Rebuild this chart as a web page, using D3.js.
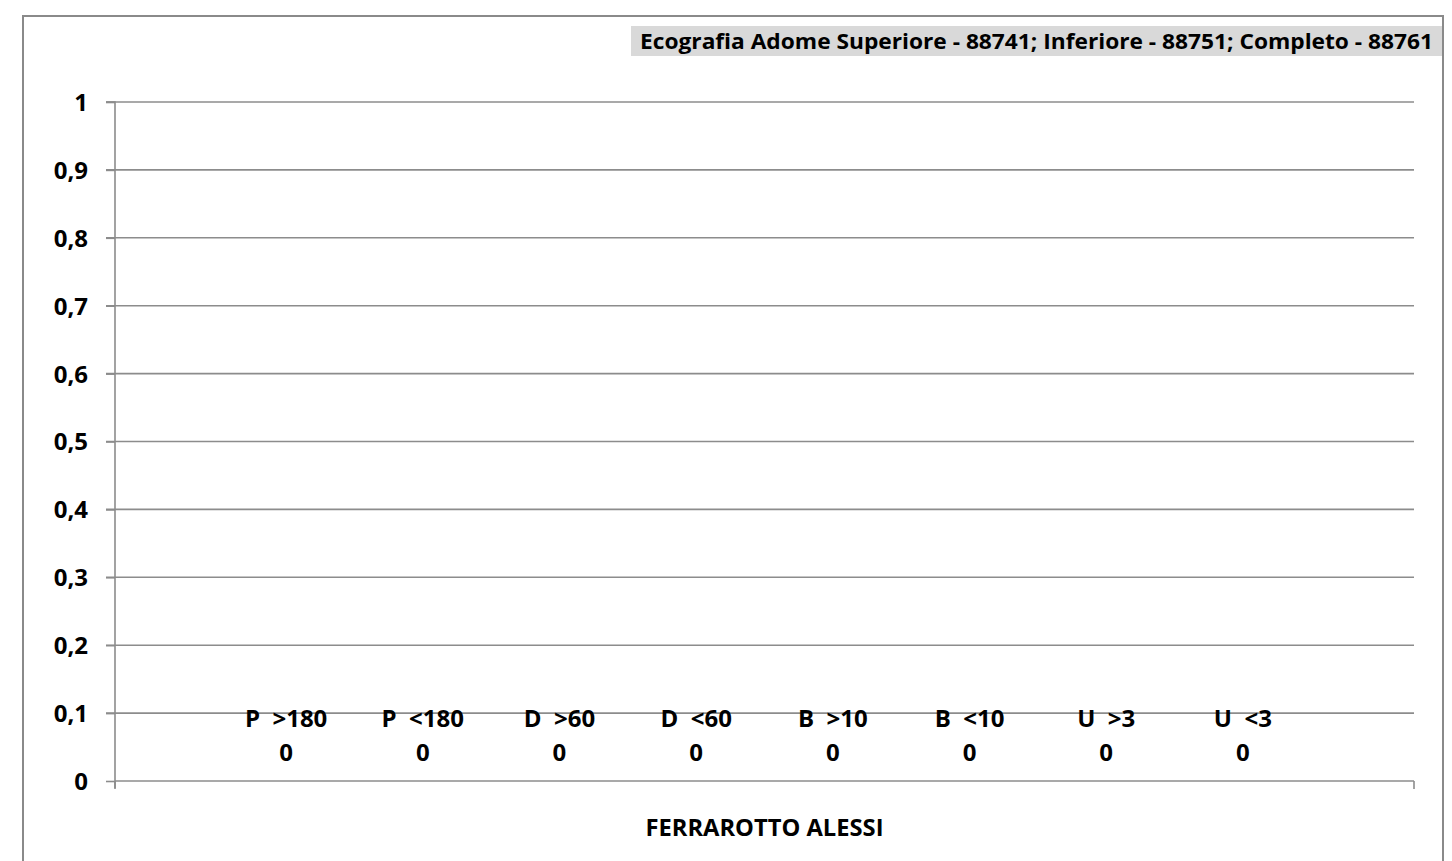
<!DOCTYPE html>
<html><head><meta charset="utf-8">
<script src="https://cdn.jsdelivr.net/npm/d3@7"></script>
<style>body{margin:0;background:#fff}svg{display:block}text{font-family:"Open Sans",Lato,sans-serif;font-weight:bold;fill:#000}</style>
</head><body>
<script>
const categories = ["FERRAROTTO ALESSI"];
const seriesNames = ["P  >180","P  <180","D  >60","D  <60","B  >10","B  <10","U  >3","U  <3"];
const seriesValues = [0,0,0,0,0,0,0,0];
const yTicks = [0,0.1,0.2,0.3,0.4,0.5,0.6,0.7,0.8,0.9,1];
const chartTitle = "Ecografia Adome Superiore - 88741; Inferiore - 88751; Completo - 88761";

const W = 1452, H = 861;
const svg = d3.select("body").append("svg").attr("width", W).attr("height", H);
const m = {left:115, right:1414, top:102, bottom:781};

// outer frame
svg.append("rect").attr("x",23).attr("y",16).attr("width",1420).attr("height",900)
  .attr("fill","none").attr("stroke","#8a8a8a").attr("stroke-width",2);

// title box
svg.append("rect").attr("x",631).attr("y",26).attr("width",811).attr("height",30).attr("fill","#d9d9d9");
svg.append("text").attr("x",640).attr("y",49).attr("font-size",22)
  .attr("textLength",793).attr("lengthAdjust","spacingAndGlyphs").text(chartTitle);

const y = d3.scaleLinear().domain([0,1]).range([m.bottom, m.top]);
const x0 = d3.scaleBand().domain(categories).range([m.left, m.right]).paddingInner(0).paddingOuter(0.094);
const x1 = d3.scaleBand().domain(seriesNames).range([0, x0.bandwidth()]).padding(0);

// gridlines
svg.append("g").selectAll("line").data(yTicks.filter(d=>d>0)).join("line")
  .attr("x1", m.left-9).attr("x2", m.right).attr("y1", d=>y(d)).attr("y2", d=>y(d))
  .attr("stroke","#8c8c8c").attr("stroke-width",1.6);

// y axis
const yAxis = d3.axisLeft(y).tickValues(yTicks).tickSize(9).tickPadding(18)
  .tickFormat(d => d3.format(".1~f")(d).replace(".", ","));
const gy = svg.append("g").attr("transform",`translate(${m.left},0)`).call(yAxis);
gy.select(".domain").attr("stroke","#8c8c8c").attr("stroke-width",1.6)
  .attr("d", `M-9,${m.top}H0V${m.bottom+7}`);
gy.selectAll(".tick line").attr("stroke","#8c8c8c").attr("stroke-width",1.6);
gy.selectAll(".tick text").attr("font-size",24).attr("font-family",null).attr("dy","0.35em");

// x axis
const gx = svg.append("g").attr("transform",`translate(0,${m.bottom})`);
gx.append("line").attr("x1",m.left).attr("x2",m.right).attr("y1",0).attr("y2",0)
  .attr("stroke","#8c8c8c").attr("stroke-width",1.6);
gx.selectAll("line.tk").data([m.left, m.right]).join("line").attr("class","tk")
  .attr("x1",d=>d).attr("x2",d=>d).attr("y1",0).attr("y2",8)
  .attr("stroke","#8c8c8c").attr("stroke-width",1.6);
gx.selectAll("text").data(categories).join("text")
  .attr("x", d => x0(d) + x0.bandwidth()/2).attr("y", 55).attr("text-anchor","middle")
  .attr("font-size",24).attr("textLength",238).attr("lengthAdjust","spacingAndGlyphs").text(d=>d);

// bars (zero height) and data labels
const data = seriesNames.map((s,i)=>({s, v:seriesValues[i], c:categories[0]}));
const g = svg.append("g");
g.selectAll("rect").data(data).join("rect")
  .attr("x", d => x0(d.c) + x1(d.s) + x1.bandwidth()*0.1)
  .attr("width", x1.bandwidth()*0.8)
  .attr("y", d => y(d.v)).attr("height", d => y(0) - y(d.v)).attr("fill","#4f81bd");
const lab = g.selectAll("text").data(data).join("text")
  .attr("text-anchor","middle").attr("font-size",24);
lab.append("tspan").attr("x", d => x0(d.c) + x1(d.s) + x1.bandwidth()/2)
  .attr("y", d => y(d.v) - 54).text(d => d.s).attr("style","white-space:pre");
lab.append("tspan").attr("x", d => x0(d.c) + x1(d.s) + x1.bandwidth()/2)
  .attr("y", d => y(d.v) - 20).text(d => d3.format("~f")(d.v));
</script>
</body></html>
